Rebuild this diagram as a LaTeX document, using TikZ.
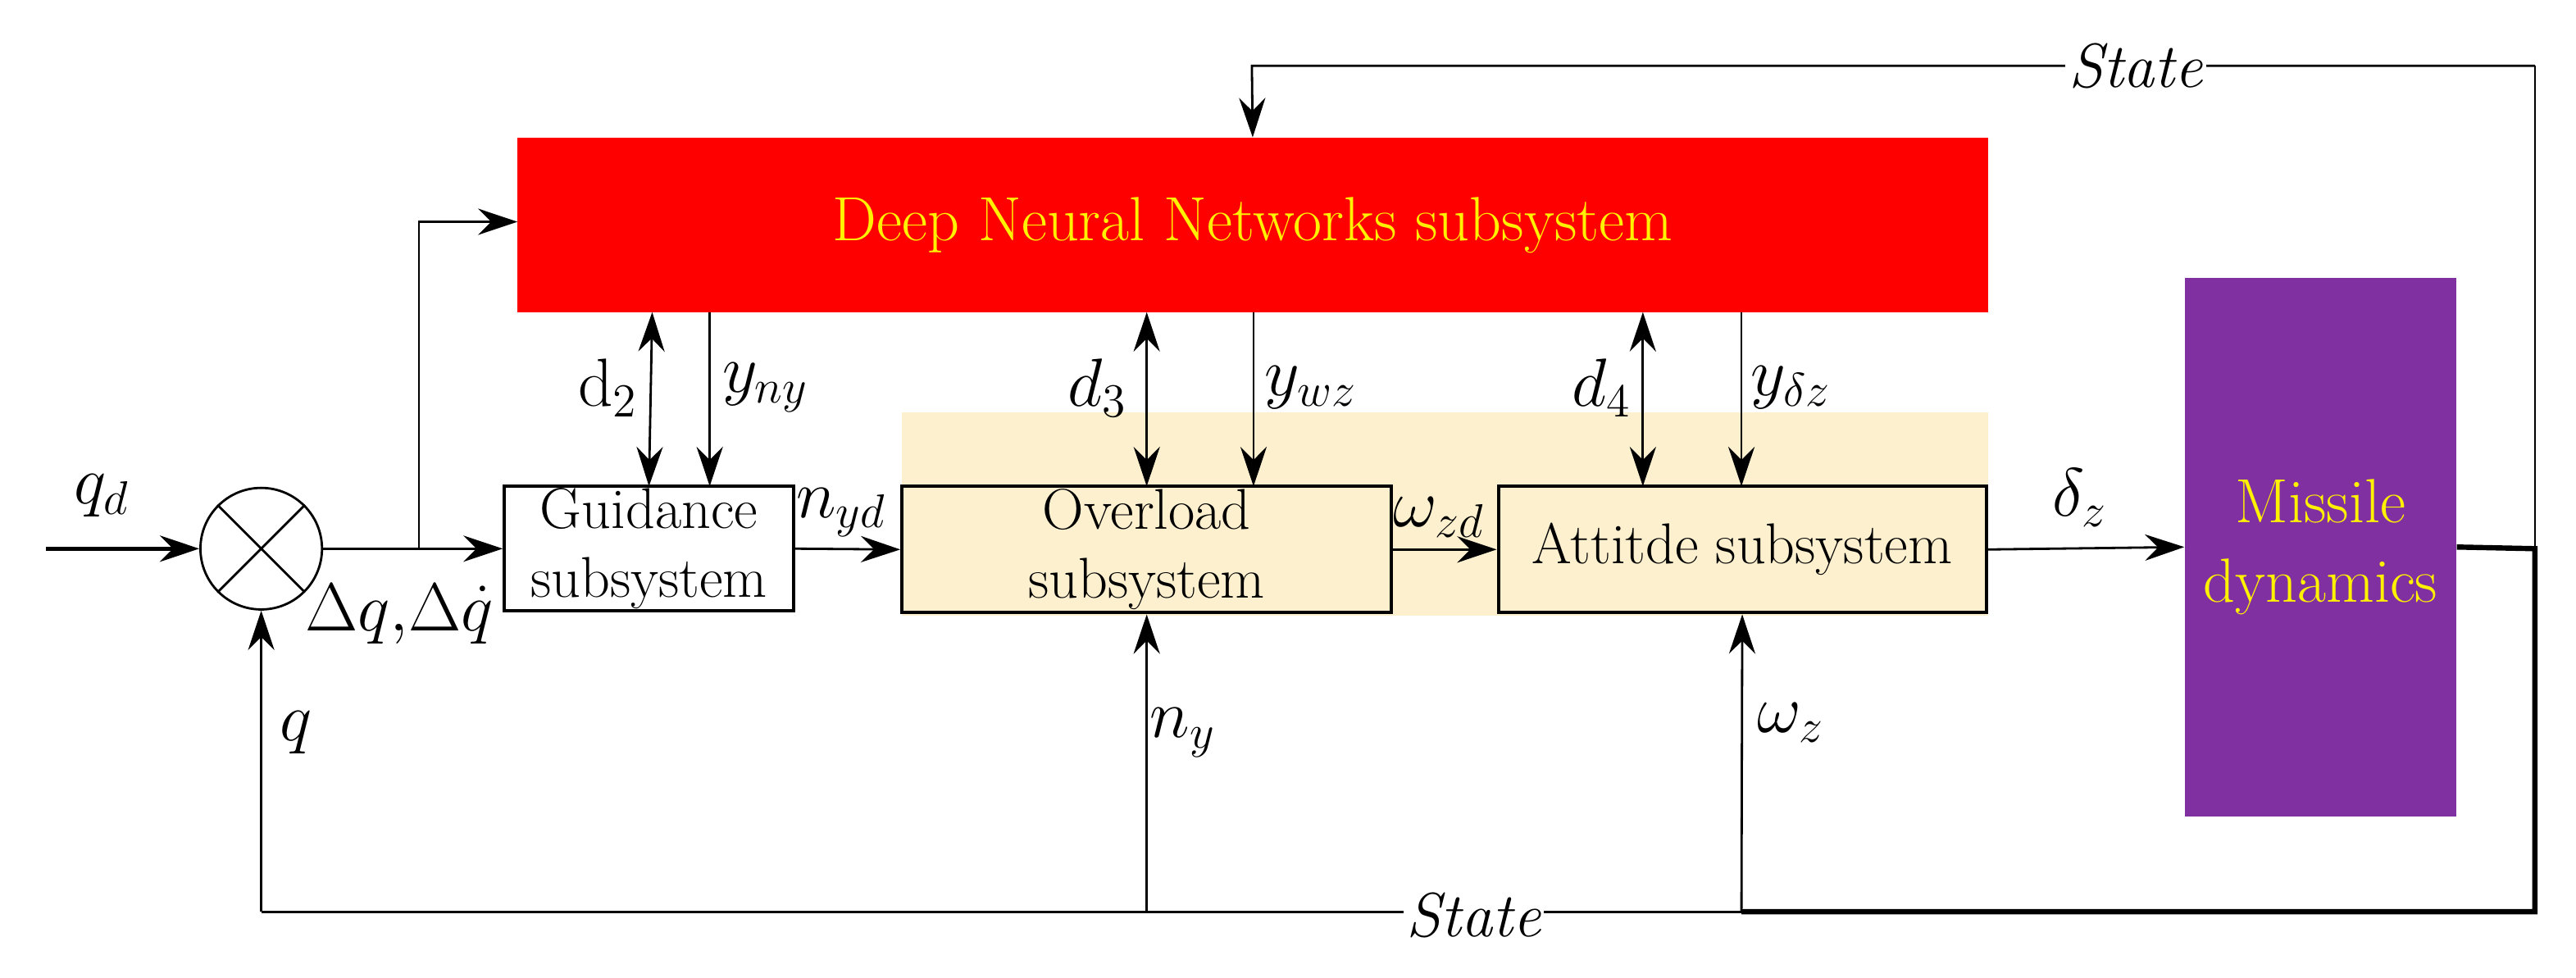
\documentclass[tikz,border=0pt]{standalone}
\usetikzlibrary{arrows.meta}
\definecolor{beige}{HTML}{FDF0CF}
\definecolor{purp}{HTML}{8030A0}
\begin{document}
\begin{tikzpicture}[x=0.5pt,y=-0.5pt,
  every node/.style={font=\fontsize{17.5}{21}\selectfont},
  blk/.style={draw,line width=1pt,inner sep=0pt},
  ln/.style={line width=0.7pt},
  arr/.style={ln,-{Stealth[length=12pt,width=8pt,inset=4pt]}},
  darr/.style={ln,{Stealth[length=12pt,width=8pt,inset=4pt]}-{Stealth[length=12pt,width=8pt,inset=4pt]}},
  lab/.style={font=\fontsize{21}{24}\selectfont}]
\useasboundingbox (0,0) rectangle (1568,595);
\fill[beige] (549,251) rectangle (1210,375);
\node[fill=red,minimum width=447.5pt,minimum height=53pt,inner sep=0pt,text=yellow,font=\fontsize{19}{22}\selectfont] (dnn) at (762.5,137) {Deep Neural Networks subsystem};
\node[fill=purp,minimum width=82.5pt,minimum height=164pt,inner sep=0pt,text=yellow,align=center,font=\fontsize{19}{24}\selectfont] (md) at (1412.5,333) {Missile\\dynamics};
\node[blk,fill=white,minimum width=88pt,minimum height=38pt,align=center] (gd) at (395,334) {Guidance\\subsystem};
\node[blk,fill=beige,minimum width=149pt,minimum height=38.5pt,align=center] (ov) at (698,334.5) {Overload\\subsystem};
\node[blk,fill=beige,minimum width=148.5pt,minimum height=38.5pt] (at) at (1060.5,334.5) {Attitde subsystem};
\node[draw,line width=0.7pt,circle,minimum size=37pt,inner sep=0pt] (sum) at (159,334) {};
\draw[ln] (sum.north west) -- (sum.south east) (sum.north east) -- (sum.south west);
\coordinate (in) at (28,334);
\draw[arr,line width=1.2pt] (in) -- (sum.west);
\draw[arr] (sum.east) -- (gd.west);
\coordinate (br) at (255,334);
\draw[arr] (br) |- (315,135);
\draw[arr] (gd.east) -- (ov.west);
\draw[arr] (ov.east) -- (at.west);
\draw[arr] (at.east) -- (md.west);
% DNN interface arrows
\draw[darr] (397,190) -- (395,296);
\draw[arr] (432,190) -- (432,296);
\draw[darr] (698,190) -- (698,296);
\draw[arr] (763,190) -- (763,296);
\draw[darr] (1000,190) -- (1000,296);
\draw[arr] (1060,190) -- (1060,296);
% feedback
\coordinate (bl) at (159,555);
\coordinate (bm) at (1060,555);
\coordinate (br2) at (1543,555);
\coordinate (rt) at (1543,40);
\coordinate (tl) at (762,40);
\draw[line width=1.6pt] (md.east) -- (1543,334) -- (br2) -- (bm);
\draw[arr] (bm) -- (at.south);
\draw[ln] (bm) -- (bl);
\draw[arr] (bl) -- (sum.south);
\draw[arr] (698,555) -- (ov.south);
\draw[ln] (1543,334) -- (rt);
\draw[arr] (rt) -- (tl) -- (dnn.north);
\node[fill=white,inner sep=1pt,font=\itshape\fontsize{19}{22}\selectfont] at (897,557) {State};
\node[fill=white,inner sep=1pt,font=\itshape\fontsize{19}{22}\selectfont] at (1300,40) {State};
% labels
\node[lab] at (62,302) {$q_d$};
\node[lab,inner sep=0pt,font=\fontsize{20}{22}\selectfont] at (243,374) {$\Delta q,\!\Delta\dot q$};
\node[lab] at (512,312) {$n_{yd}$};
\node[lab] at (876,315) {$\omega_{zd}$};
\node[lab] at (1266,303) {$\delta_z$};
\node[lab] at (370,236) {$\mathrm{d}_2$};
\node[lab] at (466,236) {$y_{ny}$};
\node[lab] at (668,236) {$d_3$};
\node[lab] at (798,236) {$y_{wz}$};
\node[lab] at (975,236) {$d_4$};
\node[lab] at (1090,236) {$y_{\delta z}$};
\node[lab] at (180,446) {$q$};
\node[lab] at (720,446) {$n_y$};
\node[lab] at (1090,440) {$\omega_z$};
\end{tikzpicture}
\end{document}
